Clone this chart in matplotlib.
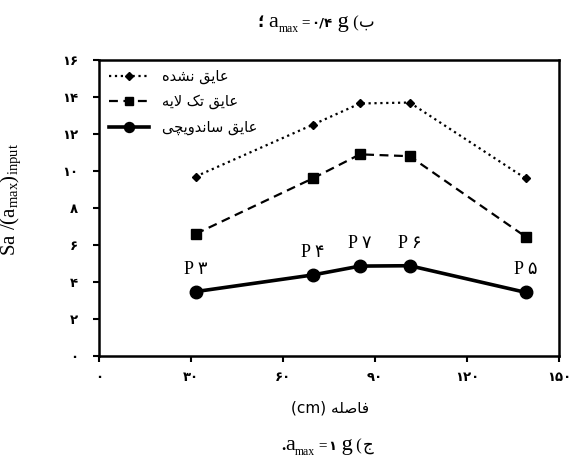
import matplotlib
matplotlib.use("Agg")
import matplotlib.pyplot as plt
from matplotlib.ticker import FuncFormatter, MultipleLocator

plt.rcParams['mathtext.fontset'] = 'custom'
plt.rcParams['mathtext.rm'] = 'Liberation Serif'
plt.rcParams['mathtext.it'] = 'Liberation Serif:italic'

# ---------------- data ----------------
distance_cm = [31.5, 69.7, 85.1, 101.3, 139.1]
uninsulated = [9.7, 12.5, 13.65, 13.7, 9.6]
single_layer = [6.6, 9.6, 10.9, 10.8, 6.45]
sandwich = [3.48, 4.38, 4.86, 4.88, 3.44]
point_labels = ["P ۳", "P ۴", "P ۷", "P ۶", "P ۵"]
series_names = ["عایق نشده", "عایق تک لایه", "عایق ساندویچی"]
xlabel_fa = "فاصله"
top_letter = "ب"
top_value = "۰/۴"
bottom_letter = "ج"
bottom_value = "۱"

# -------- minimal Persian shaping (matplotlib has no RTL shaping) --------
FORMS = {  # isolated, final, initial, medial
    'ا': ('\uFE8D', '\uFE8E', None, None),
    'ب': ('\uFE8F', '\uFE90', '\uFE91', '\uFE92'),
    'ت': ('\uFE95', '\uFE96', '\uFE97', '\uFE98'),
    'ج': ('\uFE9D', '\uFE9E', '\uFE9F', '\uFEA0'),
    'د': ('\uFEA9', '\uFEAA', None, None),
    'س': ('\uFEB1', '\uFEB2', '\uFEB3', '\uFEB4'),
    'ش': ('\uFEB5', '\uFEB6', '\uFEB7', '\uFEB8'),
    'ص': ('\uFEB9', '\uFEBA', '\uFEBB', '\uFEBC'),
    'ع': ('\uFEC9', '\uFECA', '\uFECB', '\uFECC'),
    'ف': ('\uFED1', '\uFED2', '\uFED3', '\uFED4'),
    'ق': ('\uFED5', '\uFED6', '\uFED7', '\uFED8'),
    'ل': ('\uFEDD', '\uFEDE', '\uFEDF', '\uFEE0'),
    'ن': ('\uFEE5', '\uFEE6', '\uFEE7', '\uFEE8'),
    'ه': ('\uFEE9', '\uFEEA', '\uFEEB', '\uFEEC'),
    'و': ('\uFEED', '\uFEEE', None, None),
    'ی': ('\uFBFC', '\uFBFD', '\uFBFE', '\uFBFF'),
    'ک': ('\uFB8E', '\uFB8F', '\uFB90', '\uFB91'),
    'چ': ('\uFB7A', '\uFB7B', '\uFB7C', '\uFB7D'),
}


def dual(c):
    return c in FORMS and FORMS[c][2] is not None


def shape(word):
    out = []
    chars = list(word)
    i = 0
    n = len(chars)
    while i < n:
        c = chars[i]
        if c not in FORMS:
            out.append(c)
            i += 1
            continue
        prev = chars[i - 1] if i > 0 else None
        join_prev = prev is not None and dual(prev)
        if c == 'ل' and i + 1 < n and chars[i + 1] == 'ا':
            out.append('\uFEFC' if join_prev else '\uFEFB')
            i += 2
            continue
        nxt = chars[i + 1] if i + 1 < n else None
        join_next = dual(c) and nxt is not None and nxt in FORMS
        iso, fin, ini, med = FORMS[c]
        if join_prev and join_next:
            out.append(med)
        elif join_prev:
            out.append(fin)
        elif join_next:
            out.append(ini)
        else:
            out.append(iso)
        i += 1
    return ''.join(reversed(out))


def fa(text):
    return ' '.join(shape(w) for w in reversed(text.split(' ')))


PDIG = str.maketrans('0123456789', '۰۱۲۳۴۵۶۷۸۹')


def pdigits(v, pos=None):
    return str(int(round(v))).translate(PDIG)


FA_FONT = ['DejaVu Sans']
SERIF = ['Liberation Serif', 'DejaVu Sans']
W, H = 572, 466

fig = plt.figure(figsize=(W / 100, H / 100), dpi=100)
ax = fig.add_axes([99 / W, 1 - 356 / H, 460 / W, 296 / H])

ax.plot(distance_cm, uninsulated, linestyle=':', color='black', lw=1.6,
        marker='D', markersize=4.5, label=fa(series_names[0]))
ax.plot(distance_cm, single_layer, linestyle='--', color='black', lw=1.6,
        dashes=(4, 2.5), marker='s', markersize=6.5, label=fa(series_names[1]))
ax.plot(distance_cm, sandwich, linestyle='-', color='black', lw=2.6,
        marker='o', markersize=9, label=fa(series_names[2]))

for x, y, lab in zip(distance_cm, sandwich, point_labels):
    ax.text(x, y + 0.75, lab, ha='center', va='bottom', fontsize=13,
            family=SERIF)

ax.set_xlim(0, 150)
ax.set_ylim(0, 16)
ax.xaxis.set_major_locator(MultipleLocator(30))
ax.yaxis.set_major_locator(MultipleLocator(2))
ax.xaxis.set_major_formatter(FuncFormatter(pdigits))
ax.yaxis.set_major_formatter(FuncFormatter(pdigits))
ax.tick_params(axis='both', direction='out', length=4, width=1.5,
               labelsize=9.5)
ax.tick_params(axis='y', pad=11)
ax.tick_params(axis='x', pad=7)
for lab in ax.get_xticklabels() + ax.get_yticklabels():
    lab.set_fontweight('bold')
for s in ax.spines.values():
    s.set_linewidth(1.8)

leg = ax.legend(loc='upper left', bbox_to_anchor=(0.0, 1.005), frameon=False,
                handlelength=2.7, handletextpad=0.9, labelspacing=0.7,
                markerscale=0.8, borderaxespad=0.3,
                prop={'family': FA_FONT, 'size': 10.5})

ax.set_ylabel(r"Sa /(a$_{\rm max}$)$_{\rm input}$", family='Liberation Serif',
              fontsize=15)
ax.yaxis.set_label_coords(-0.165, 0.53)

fig.text(330 / W, 1 - 408 / H, "(cm) " + fa(xlabel_fa), ha='center',
         va='center', fontsize=11, family=FA_FONT)

renderer = fig.canvas.get_renderer()


def draw_pieces(pieces, center_x, baseline_y):
    """pieces: (text, family, size, weight, dy_px) in visual left-to-right order."""
    texts = []
    x = 0.0
    for txt, fam, size, weight, dy in pieces:
        t = fig.text(x / W, (H - baseline_y + dy) / H, txt, family=fam,
                     fontsize=size, fontweight=weight, va='baseline',
                     ha='left')
        ext = t.get_window_extent(renderer)
        texts.append((t, x, dy))
        x += ext.width
    shift = center_x - x / 2
    for t, x0, dy in texts:
        t.set_position(((x0 + shift) / W, (H - baseline_y + dy) / H))


def title_pieces(lead, value, letter):
    return [
        (lead, SERIF, 12, 'bold', 0),
        ("a", ['Liberation Serif'], 16, 'normal', 0),
        ("max", ['Liberation Serif'], 8.5, 'normal', -5),
        (" =", ['Liberation Serif'], 11, 'normal', 0),
        (value, FA_FONT, 9.5, 'bold', 0),
        (" g", ['Liberation Serif'], 16, 'normal', 0),
        (" (", ['Liberation Serif'], 12, 'normal', 0),
        (fa(letter), FA_FONT, 12, 'normal', 0),
    ]


draw_pieces(title_pieces("؛ ", top_value, top_letter), 316, 27)
draw_pieces(title_pieces(".", bottom_value, bottom_letter), 327, 450)

fig.savefig('out.png', dpi=100)
